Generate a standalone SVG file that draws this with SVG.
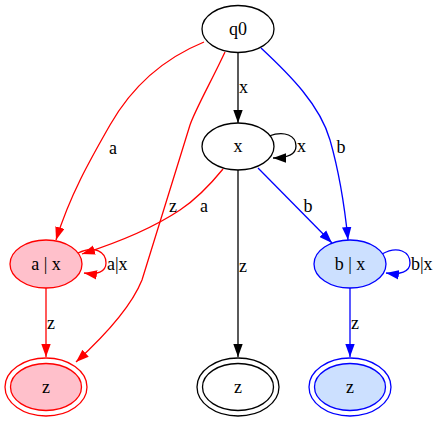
<svg xmlns="http://www.w3.org/2000/svg" width="439" height="421" viewBox="0 0 439 421">
<style>
text{font-family:"Liberation Serif","Times New Roman",serif;font-size:18px;fill:#000}
.n{text-anchor:middle}
.s{text-anchor:start}
.e{fill:none;stroke-width:1.3}
ellipse{stroke-width:1.3}
.k{stroke:#000}.r{stroke:#ff0000}.b{stroke:#0000ff}
</style>
<defs>
<marker id="ak" markerUnits="userSpaceOnUse" markerWidth="13" markerHeight="10" refX="13" refY="5" orient="auto"><path d="M0,0.3 L13,5 L0,9.7 z" fill="#000"/></marker>
<marker id="ar" markerUnits="userSpaceOnUse" markerWidth="13" markerHeight="10" refX="13" refY="5" orient="auto"><path d="M0,0.3 L13,5 L0,9.7 z" fill="#ff0000"/></marker>
<marker id="ab" markerUnits="userSpaceOnUse" markerWidth="13" markerHeight="10" refX="13" refY="5" orient="auto"><path d="M0,0.3 L13,5 L0,9.7 z" fill="#0000ff"/></marker>
</defs>
<rect width="439" height="421" fill="#fff"/>
<g id="edges">
<path class="e k" d="M238,52 L238,123" marker-end="url(#ak)"/>
<text class="s" x="239" y="93">x</text>
<path class="e k" d="M269,136 C285,130 296,136 296,146 C296,154 287,158 273,158" marker-end="url(#ak)"/>
<text class="s" x="297" y="152">x</text>
<path class="e r" d="M204,42 C160,60 130,90 110,125 C90,160 70,195 56,240" marker-end="url(#ar)"/>
<text class="n" x="113" y="154">a</text>
<path class="e r" d="M225,52 C212,80 195,110 190,125 L142,280 C130,310 100,340 76,362" marker-end="url(#ar)"/>
<text class="n" x="173" y="212">z</text>
<path class="e b" d="M261,48 C290,75 320,105 330,140 C340,175 345,210 348,240" marker-end="url(#ab)"/>
<text class="n" x="341" y="153">b</text>
<path class="e r" d="M223,169 C210,185 195,200 180,210 C150,230 110,245 82,254" marker-end="url(#ar)"/>
<text class="n" x="204" y="212">a</text>
<path class="e k" d="M238,170 L238,357" marker-end="url(#ak)"/>
<text class="s" x="239" y="272">z</text>
<path class="e b" d="M258,168 L332,243" marker-end="url(#ab)"/>
<text class="n" x="308" y="212">b</text>
<path class="e r" d="M78,253 C95,245 106,252 106,263 C106,272 97,275 84,273" marker-end="url(#ar)"/>
<text class="s" x="107" y="270">a|x</text>
<path class="e b" d="M382,254 C398,245 410,252 410,263 C410,272 400,275 386,273" marker-end="url(#ab)"/>
<text class="s" x="411" y="270">b|x</text>
<path class="e r" d="M46,288 L46,357" marker-end="url(#ar)"/>
<text class="s" x="47" y="329">z</text>
<path class="e b" d="M350,288 L350,357" marker-end="url(#ab)"/>
<text class="s" x="351" y="329">z</text>
</g>
<g id="q0"><ellipse cx="238" cy="29" rx="36" ry="23.5" fill="#fff" stroke="#000"/><text class="n" x="238" y="35">q0</text></g>
<g id="x"><ellipse cx="238" cy="146.5" rx="36" ry="23.5" fill="#fff" stroke="#000"/><text class="n" x="238" y="152">x</text></g>
<g id="ax"><ellipse cx="46" cy="264" rx="36" ry="24" fill="#ffc0cb" stroke="#ff0000"/><text class="n" x="46" y="270">a | x</text></g>
<g id="bx"><ellipse cx="350" cy="264" rx="36" ry="24" fill="#cce0ff" stroke="#0000ff"/><text class="n" x="350" y="270">b | x</text></g>
<g id="za"><ellipse cx="46" cy="387" rx="41" ry="29" fill="none" stroke="#ff0000"/><ellipse cx="46" cy="387" rx="35.5" ry="23.5" fill="#ffc0cb" stroke="#ff0000"/><text class="n" x="46" y="393">z</text></g>
<g id="z"><ellipse cx="238" cy="387" rx="41" ry="29" fill="none" stroke="#000"/><ellipse cx="238" cy="387" rx="35.5" ry="23.5" fill="#fff" stroke="#000"/><text class="n" x="238" y="393">z</text></g>
<g id="zb"><ellipse cx="350" cy="387" rx="41" ry="29" fill="none" stroke="#0000ff"/><ellipse cx="350" cy="387" rx="35.5" ry="23.5" fill="#cce0ff" stroke="#0000ff"/><text class="n" x="350" y="393">z</text></g>
</svg>
